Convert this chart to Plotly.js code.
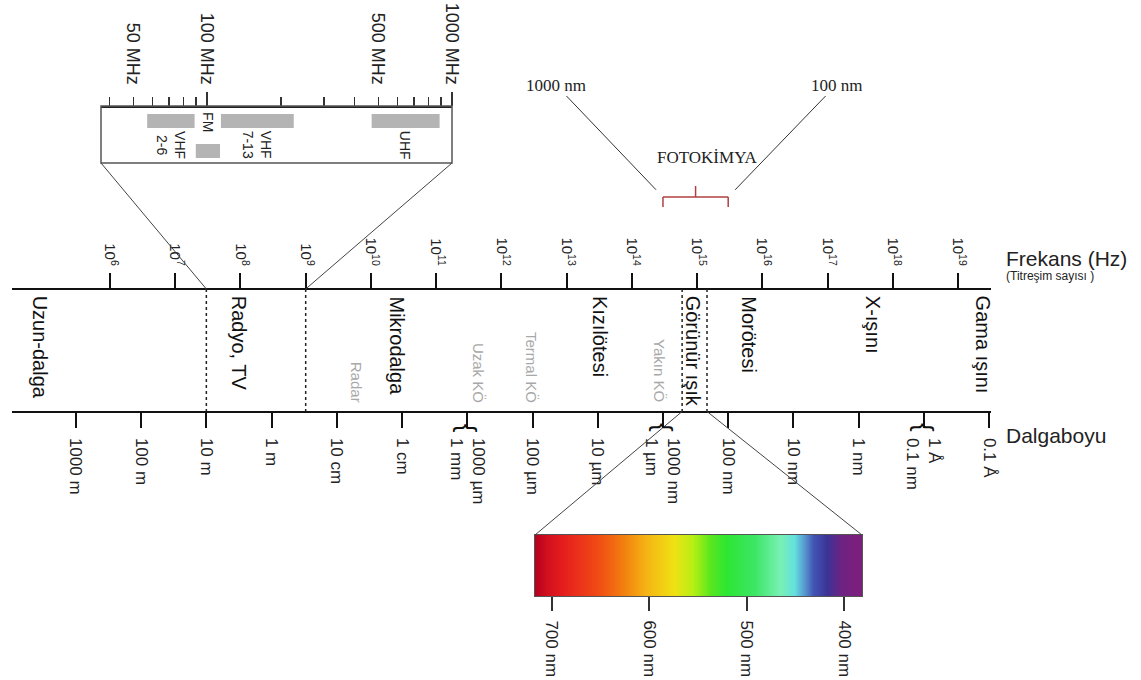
<!DOCTYPE html>
<html>
<head>
<meta charset="utf-8">
<script src="https://cdn.plot.ly/plotly-3.0.1.min.js"></script>
<style>
  html, body { margin: 0; padding: 0; background: #ffffff; }
  #chart { width: 1141px; height: 680px; }
</style>
</head>
<body>
<div id="chart"></div>
<script>
// ---- values ----
const LIGHT_SPEED = 3e8; // m/s, used to place wavelength ticks on the frequency scale

const freqTickExp = [6, 7, 8, 9, 10, 11, 12, 13, 14, 15, 16, 17, 18, 19];

const waveTickMeters = [1000, 100, 10, 1, 0.1, 0.01, 1e-3, 1e-4, 1e-5, 1e-6, 1e-7, 1e-8, 1e-9, 1e-10, 1e-11];
const waveTickText = ['1000 m', '100 m', '10 m', '1 m', '10 cm', '1 cm', '1000 µm<br>1 mm', '100 µm',
                      '10 µm', '1000 nm<br>1 µm', '100 nm', '10 nm', '1 nm', '1 Å<br>0.1 nm', '0.1 Å'];
const braceMeters = [1e-3, 1e-6, 1e-10];

const regionNames = ['Uzun-dalga', 'Radyo, TV', 'Mikrodalga', 'Kızılötesi', 'Görünür ışık', 'Morötesi', 'X-ışını', 'Gama ışını'];
const regionLabelLogHz = [4.94, 7.99, 10.40, 13.52, 14.95, 15.80, 17.70, 19.39];
const subRegionNames = ['Radar', 'Uzak KÖ', 'Termal KÖ', 'Yakın KÖ'];
const subRegionLabelLogHz = [9.79, 11.65, 12.47, 14.43];

// dotted separators: radio/TV band and the visible window
const radioWindowHz = [3e7, 1e9];
const visibleWindowHz = [5.9e14, 1.42e15];

// broadcast bands in the MHz inset
const bandNames = ['VHF<br>2-6', 'FM', 'VHF<br>7-13', 'UHF'];
const bandStartMHz = [57, 90, 114, 470];
const bandEndMHz = [89, 113, 226, 890];
const bandRow = [0, 1, 0, 0];
const insetTickMHz = [40, 50, 60, 70, 80, 90, 100, 200, 300, 400, 500, 600, 700, 800, 900, 1000];
const insetLabelMHz = [50, 100, 500, 1000];
const insetMajorMHz = [100, 1000];

// photochemistry range
const photochemNm = [1000, 100];

// visible spectrum strip
const spectrumTickNm = [700, 600, 500, 400];
const spectrumStopNm = [717, 705, 688, 654, 630, 603, 575, 555, 538, 521, 493, 466, 452, 442, 432, 418, 404, 384];
const spectrumStopColor = ['#b5001e', '#d20f1e', '#e61e1e', '#f04a14', '#f2780f', '#f5b414', '#f0e114', '#b4f014',
                           '#5ae61e', '#2de632', '#3ce664', '#78f0b4', '#64e1dc', '#5aa0d2', '#4155b4', '#3c3296',
                           '#6e2382', '#7d1e7d'];

// ---- geometry ----
const W = 1141, H = 680;
const FREQ_Y = 289, WAVE_Y = 411.5;
const INSET_TOP = 106, INSET_BOTTOM = 163;
const BAR_ROWS = [[114, 128], [144, 158]];
const STRIP_TOP = 535, STRIP_BOTTOM = 596;
const FONT = 'Liberation Sans, Arial, sans-serif';
const SERIF = 'Liberation Serif, Times New Roman, serif';

const freqAxis = {
  type: 'log', domain: [12 / W, 991 / W], range: [4.4977, 19.506],
  anchor: 'free', position: 1 - FREQ_Y / H, side: 'top',
  showline: true, linecolor: '#111', linewidth: 2,
  ticks: 'outside', ticklen: 15, tickwidth: 2, tickcolor: '#111',
  tickmode: 'array', tickvals: freqTickExp.map(e => Math.pow(10, e)),
  ticktext: freqTickExp.map(e => '10<sup>' + e + '</sup>'),
  tickangle: 90, tickfont: { family: FONT, size: 15, color: '#222' }, ticklabelstandoff: 2,
  showgrid: false, zeroline: false, fixedrange: true
};
const waveAxis = Object.assign({}, freqAxis, {
  overlaying: 'x', position: 1 - WAVE_Y / H, side: 'bottom',
  tickvals: waveTickMeters.map(m => LIGHT_SPEED / m), ticktext: waveTickText,
  tickfont: { family: FONT, size: 17, color: '#222' }, ticklabelstandoff: 7
});
const insetAxis = {
  type: 'log', domain: [101 / W, 452 / W], range: [2 - 106 / 245, 3],
  anchor: 'free', position: 1 - INSET_TOP / H, side: 'top',
  showline: true, linecolor: '#222', linewidth: 1.5,
  ticks: 'outside', ticklen: 9, tickwidth: 1.5, tickcolor: '#333',
  tickmode: 'array', tickvals: insetTickMHz,
  ticktext: insetTickMHz.map(v => insetLabelMHz.includes(v) ? v + ' MHz' : ''),
  tickangle: 90, tickfont: { family: FONT, size: 18, color: '#222' }, ticklabelstandoff: 6,
  showgrid: false, zeroline: false, fixedrange: true
};
const insetMajorAxis = Object.assign({}, insetAxis, {
  overlaying: 'x3', showline: false, ticklen: 14, tickvals: insetMajorMHz,
  ticktext: insetMajorMHz.map(() => ''), showticklabels: false
});
const stripAxis = {
  domain: [535 / W, 862 / W], range: [717, 382], anchor: 'y4',
  showline: true, mirror: true, linecolor: '#555', linewidth: 1,
  ticks: 'outside', ticklen: 14, tickwidth: 2, tickcolor: '#333',
  tickmode: 'array', tickvals: spectrumTickNm, ticktext: spectrumTickNm.map(v => v + ' nm'),
  tickangle: 90, tickfont: { family: FONT, size: 17, color: '#222' }, ticklabelstandoff: 6,
  showgrid: false, zeroline: false, fixedrange: true
};

// convert a value on an axis (as configured above) to a paper fraction
function toPaper(ax, v) {
  const t = ax.type === 'log' ? Math.log10(v) : v;
  return ax.domain[0] + (t - ax.range[0]) / (ax.range[1] - ax.range[0]) * (ax.domain[1] - ax.domain[0]);
}

// ---- traces ----
const traces = [];

// axis carriers
traces.push({ type: 'scatter', x: freqAxis.tickvals, y: freqAxis.tickvals.map(() => FREQ_Y),
  xaxis: 'x', yaxis: 'y', mode: 'markers', marker: { opacity: 0 }, hoverinfo: 'skip', showlegend: false });
traces.push({ type: 'scatter', x: waveAxis.tickvals, y: waveAxis.tickvals.map(() => WAVE_Y),
  xaxis: 'x2', yaxis: 'y', mode: 'markers', marker: { opacity: 0 }, hoverinfo: 'skip', showlegend: false });
traces.push({ type: 'scatter', x: insetMajorMHz, y: insetMajorMHz.map(() => INSET_TOP),
  xaxis: 'x5', yaxis: 'y', mode: 'markers', marker: { opacity: 0 }, hoverinfo: 'skip', showlegend: false });

// broadcast band bars
bandNames.forEach((name, i) => {
  const r = BAR_ROWS[bandRow[i]];
  const a = bandStartMHz[i], b = bandEndMHz[i];
  traces.push({
    type: 'scatter', xaxis: 'x3', yaxis: 'y',
    x: [a, b, b, a, a], y: [r[0], r[0], r[1], r[1], r[0]],
    mode: 'lines', fill: 'toself', fillcolor: '#b4b4b4', line: { width: 0, color: '#b4b4b4' },
    hoverinfo: 'skip', showlegend: false
  });
});

// visible spectrum strip
const stopsAsc = spectrumStopNm.map((nm, i) => [nm, spectrumStopColor[i]]).sort((p, q) => p[0] - q[0]);
const nmMin = stopsAsc[0][0], nmMax = stopsAsc[stopsAsc.length - 1][0];
traces.push({
  type: 'heatmap', xaxis: 'x4', yaxis: 'y4',
  x: spectrumStopNm, y: [0, 1], z: [spectrumStopNm, spectrumStopNm],
  zmin: nmMin, zmax: nmMax, zsmooth: 'best', showscale: false, hoverinfo: 'skip',
  colorscale: stopsAsc.map(p => [(p[0] - nmMin) / (nmMax - nmMin), p[1]])
});

// ---- shapes ----
const shapes = [];
const hzX = hz => toPaper(freqAxis, hz);
function seg(x0, y0, x1, y1, line) {
  shapes.push({ type: 'line', xref: 'paper', yref: 'y', x0: x0, y0: y0, x1: x1, y1: y1, line: line });
}
radioWindowHz.concat(visibleWindowHz).forEach(hz => {
  seg(hzX(hz), FREQ_Y, hzX(hz), WAVE_Y, { color: '#222', width: 1.5, dash: 'dot' });
});
// inset frame and its links down to the radio window
shapes.push({ type: 'rect', xref: 'x3 domain', yref: 'y', x0: 0, x1: 1, y0: INSET_TOP, y1: INSET_BOTTOM,
  line: { color: '#555', width: 1.5 }, fillcolor: 'rgba(0,0,0,0)' });
seg(insetAxis.domain[0], INSET_BOTTOM, hzX(radioWindowHz[0]), FREQ_Y, { color: '#444', width: 1 });
seg(insetAxis.domain[1], INSET_BOTTOM, hzX(radioWindowHz[1]), FREQ_Y, { color: '#444', width: 1 });
// links from the visible window to the spectrum strip
seg(hzX(visibleWindowHz[0]), WAVE_Y, stripAxis.domain[0], STRIP_TOP, { color: '#444', width: 1 });
seg(hzX(visibleWindowHz[1]), WAVE_Y, stripAxis.domain[1], STRIP_TOP, { color: '#444', width: 1 });
// photochemistry bracket
const pcHz = photochemNm.map(nm => LIGHT_SPEED / (nm * 1e-9));
const pcA = hzX(pcHz[0]), pcB = hzX(pcHz[1]);
const pcMid = (pcA + pcB) / 2;
const BR = { color: '#b04040', width: 1.5 };
seg(pcA, 197, pcB, 197, BR);
seg(pcA, 197, pcA, 207, BR);
seg(pcB, 197, pcB, 207, BR);
seg(pcMid, 186, pcMid, 197, BR);

// ---- annotations ----
const annotations = [];
regionNames.forEach((t, i) => annotations.push({
  xref: 'x', yref: 'y', x: regionLabelLogHz[i], y: FREQ_Y + 5, text: t, textangle: 90,
  xanchor: 'center', yanchor: 'top', showarrow: false, font: { family: FONT, size: 20, color: '#111' }
}));
subRegionNames.forEach((t, i) => annotations.push({
  xref: 'x', yref: 'y', x: subRegionLabelLogHz[i], y: WAVE_Y - 7, text: t, textangle: 90,
  xanchor: 'center', yanchor: 'bottom', showarrow: false, font: { family: FONT, size: 15, color: '#a8a8a8' }
}));
braceMeters.forEach(m => annotations.push({
  xref: 'x', yref: 'y', x: Math.log10(LIGHT_SPEED / m), y: 428, text: '{', textangle: 90,
  xanchor: 'center', yanchor: 'middle', showarrow: false, font: { family: FONT, size: 26, color: '#111' }
}));
bandNames.forEach((t, i) => annotations.push({
  xref: 'x3', yref: 'y', x: (Math.log10(bandStartMHz[i]) + Math.log10(bandEndMHz[i])) / 2,
  y: bandRow[i] === 0 ? BAR_ROWS[0][1] + 1 : INSET_TOP + 4, text: t, textangle: 90,
  xanchor: 'center', yanchor: 'top', showarrow: false, font: { family: FONT, size: 14, color: '#222' }
}));
annotations.push({ xref: 'paper', yref: 'y', x: 1004 / W, y: 258, text: 'Frekans (Hz)', xanchor: 'left',
  yanchor: 'middle', showarrow: false, font: { family: FONT, size: 21, color: '#222' } });
annotations.push({ xref: 'paper', yref: 'y', x: 1004 / W, y: 276, text: '(Titreşim sayısı )', xanchor: 'left',
  yanchor: 'middle', showarrow: false, font: { family: FONT, size: 12, color: '#222' } });
annotations.push({ xref: 'paper', yref: 'y', x: 1004 / W, y: 435, text: 'Dalgaboyu', xanchor: 'left',
  yanchor: 'middle', showarrow: false, font: { family: FONT, size: 21, color: '#222' } });
annotations.push({ xref: 'paper', yref: 'y', x: 707 / W, y: 157, text: 'FOTOKİMYA', xanchor: 'center',
  yanchor: 'middle', showarrow: false, font: { family: SERIF, size: 17, color: '#222' } });
annotations.push({ xref: 'x', yref: 'y', x: Math.log10(pcHz[0]), y: 197, text: photochemNm[0] + ' nm',
  showarrow: true, arrowhead: 0, arrowwidth: 1, arrowcolor: '#333', standoff: 10, ax: -107, ay: -112,
  font: { family: SERIF, size: 17, color: '#222' } });
annotations.push({ xref: 'x', yref: 'y', x: Math.log10(pcHz[1]), y: 197, text: photochemNm[1] + ' nm',
  showarrow: true, arrowhead: 0, arrowwidth: 1, arrowcolor: '#333', standoff: 10, ax: 108, ay: -112,
  font: { family: SERIF, size: 17, color: '#222' } });

// ---- layout ----
const layout = {
  width: W, height: H, margin: { l: 0, r: 0, t: 0, b: 0, pad: 0 },
  paper_bgcolor: '#ffffff', plot_bgcolor: 'rgba(0,0,0,0)',
  showlegend: false, hovermode: false, dragmode: false,
  xaxis: freqAxis, xaxis2: waveAxis, xaxis3: insetAxis, xaxis5: insetMajorAxis, xaxis4: stripAxis,
  yaxis: { domain: [0, 1], range: [H, 0], visible: false, fixedrange: true },
  yaxis4: { domain: [1 - STRIP_BOTTOM / H, 1 - STRIP_TOP / H], range: [-0.5, 1.5], anchor: 'x4',
            showline: true, mirror: true, linecolor: '#555', linewidth: 1,
            showticklabels: false, ticks: '', showgrid: false, zeroline: false, fixedrange: true },
  shapes: shapes, annotations: annotations,
  font: { family: FONT, color: '#222' }
};

Plotly.newPlot('chart', traces, layout, { staticPlot: true, displayModeBar: false });
</script>
</body>
</html>
